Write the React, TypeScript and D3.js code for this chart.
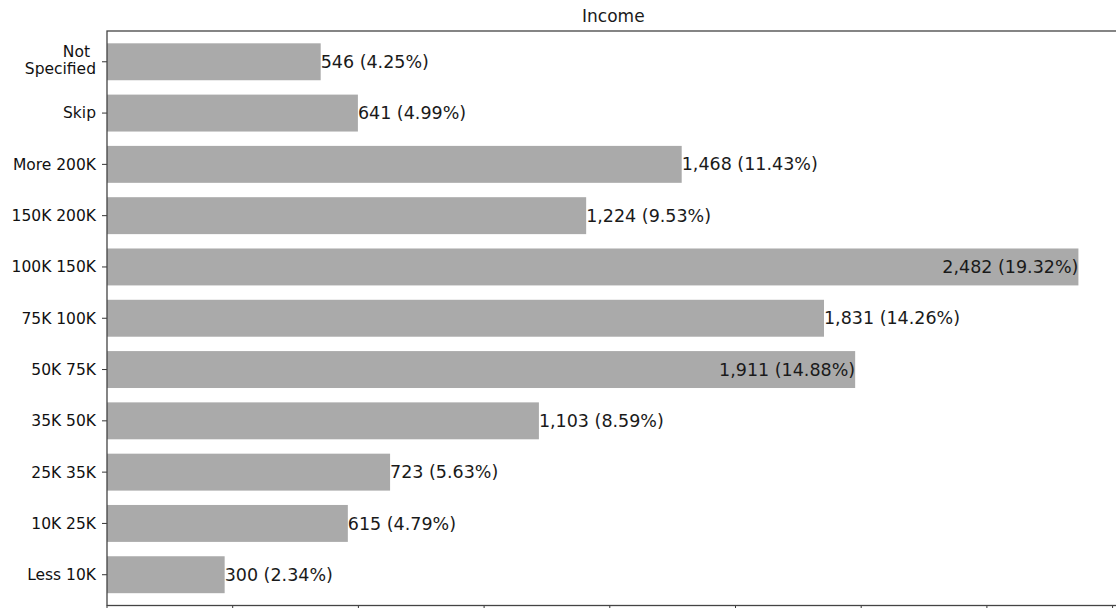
import React from "react";
import * as d3 from "d3";

const categories = [
  "Less 10K",
  "10K 25K",
  "25K 35K",
  "35K 50K",
  "50K 75K",
  "75K 100K",
  "100K 150K",
  "150K 200K",
  "More 200K",
  "Skip",
  "Not Specified",
];
const counts = [300, 615, 723, 1103, 1911, 1831, 2482, 1224, 1468, 641, 546];
const percents = [2.34, 4.79, 5.63, 8.59, 14.88, 14.26, 19.32, 9.53, 11.43, 4.99, 4.25];
const xTicks = [0, 2.5, 5, 7.5, 10, 12.5, 15, 17.5, 20];
const title = "Income";

const W = 1116;
const H = 608;
const FONT = "'DejaVu Sans', Verdana, sans-serif";

export default function App() {
  const left = 107;
  const x = d3.scaleLinear().domain([0, 20.3]).range([left, left + 20.3 * 50.28]);
  const y = d3.scaleLinear().domain([-0.6, 10.6]).range([605.5, 31]);
  const band = Math.abs(y(1) - y(0));
  const barH = band * 0.72;
  const fmt = d3.format(",");
  const top = y(10.6);
  const bottom = y(-0.6);
  const right = x(20.3);

  return (
    <svg
      width={W}
      height={H}
      style={{ position: "absolute", left: 0, top: 0, background: "#fff" }}
      fontFamily={FONT}
    >
      <rect x={0} y={0} width={W} height={H} fill="#fff" />
      {categories.map((c, i) => {
        const p = percents[i];
        const inside = p > 14.5;
        const cy = y(i);
        return (
          <g key={c}>
            <rect
              x={x(0)}
              y={cy - barH / 2}
              width={x(p) - x(0)}
              height={barH}
              fill="#aaaaaa"
            />
            <text
              x={x(p)}
              y={cy}
              dy="0.35em"
              textAnchor={inside ? "end" : "start"}
              fontSize={17.5}
              fill="#1a1a1a"
            >
              {`${fmt(counts[i])} (${p.toFixed(2)}%)`}
            </text>
            <line x1={left - 5} x2={left} y1={cy} y2={cy} stroke="#333" strokeWidth={1} />
            {c === "Not Specified" ? (
              <text x={left - 11} y={cy} fontSize={15.5} fill="#111" textAnchor="end">
                <tspan x={left - 17} dy="-0.3em">Not</tspan>
                <tspan x={left - 11} dy="1.12em">Specified</tspan>
              </text>
            ) : (
              <text x={left - 11} y={cy} dy="0.35em" fontSize={15.5} fill="#111" textAnchor="end">
                {c}
              </text>
            )}
          </g>
        );
      })}
      {xTicks.map((t) => (
        <line key={t} x1={x(t)} x2={x(t)} y1={bottom} y2={bottom + 5} stroke="#333" strokeWidth={1} />
      ))}
      <rect
        x={left}
        y={top}
        width={right - left}
        height={bottom - top}
        fill="none"
        stroke="#444"
        strokeWidth={1.3}
      />
      <text x={(left + right) / 2 - 4} y={top - 9} textAnchor="middle" fontSize={17} fill="#1a1a1a">
        {title}
      </text>
    </svg>
  );
}
